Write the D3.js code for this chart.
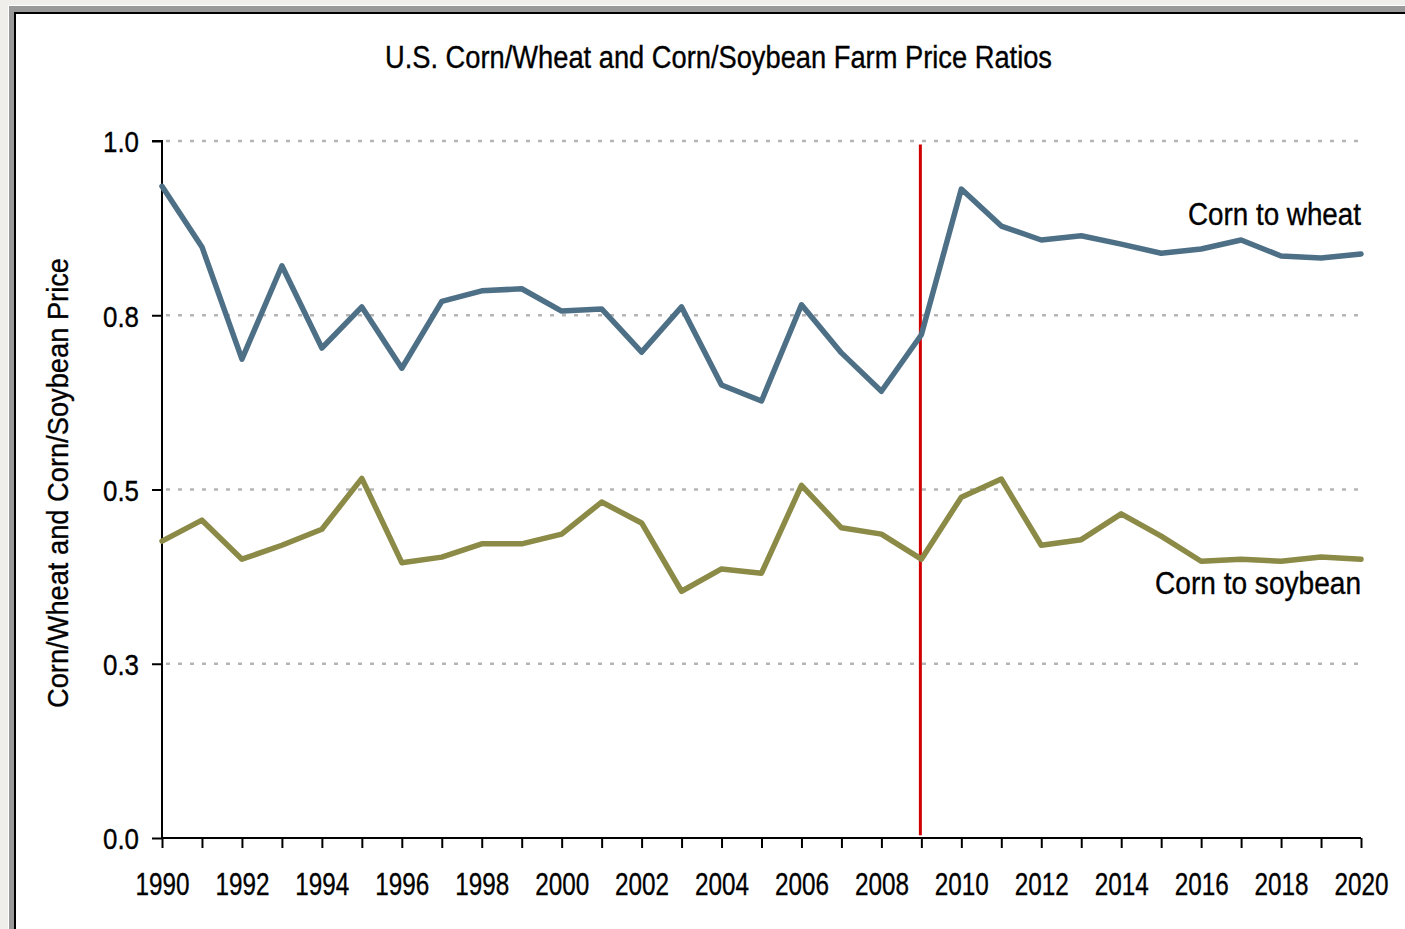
<!DOCTYPE html>
<html>
<head>
<meta charset="utf-8">
<script src="https://cdn.jsdelivr.net/npm/d3@7"></script>
<style>
  html, body { margin: 0; padding: 0; background: #efeeea; }
  svg { display: block; }
  text { font-family: "Liberation Sans", Arial, sans-serif; fill: #000; stroke: #000; stroke-width: 0.35px; }
</style>
</head>
<body>
<script>
// ---- data ----
const years = d3.range(1990, 2021);
const cornToWheat = [0.935, 0.848, 0.687, 0.821, 0.703, 0.762, 0.674, 0.770, 0.785, 0.788,
                     0.756, 0.759, 0.697, 0.762, 0.650, 0.627, 0.765, 0.696, 0.641, 0.722,
                     0.931, 0.878, 0.858, 0.864, 0.852, 0.839, 0.845, 0.858, 0.835, 0.832, 0.838];
const cornToSoybean = [0.426, 0.456, 0.400, 0.420, 0.443, 0.516, 0.395, 0.403, 0.422, 0.422,
                       0.436, 0.482, 0.452, 0.354, 0.386, 0.380, 0.506, 0.445, 0.436, 0.400,
                       0.489, 0.515, 0.420, 0.428, 0.465, 0.433, 0.397, 0.400, 0.397, 0.403, 0.400];
const yTicks = [0, 0.25, 0.5, 0.75, 1.0];
const yTickLabels = ["0.0", "0.3", "0.5", "0.8", "1.0"];
const xTickLabelYears = d3.range(1990, 2021, 2);
const markerYear = 2009;
const seriesNames = ["Corn to wheat", "Corn to soybean"];
const title = "U.S. Corn/Wheat and Corn/Soybean Farm Price Ratios";
const yTitle = "Corn/Wheat and Corn/Soybean Price";

// ---- layout ----
const W = 1405, H = 929;
const svg = d3.select("body").append("svg").attr("width", W).attr("height", H);

// horizontal squeeze helper (condensed look)
function squeeze(sel, target) {
  sel.each(function () {
    this.setAttribute("textLength", target);
    this.setAttribute("lengthAdjust", "spacingAndGlyphs");
  });
}

// frame
svg.append("rect").attr("x", 0).attr("y", 0).attr("width", W).attr("height", H).attr("fill", "#efeeea");
svg.append("rect").attr("x", 8).attr("y", 5).attr("width", W).attr("height", H).attr("fill", "#ffffff");
svg.append("rect").attr("x", 9).attr("y", 6).attr("width", W).attr("height", H).attr("fill", "#999999");
svg.append("rect").attr("x", 14).attr("y", 12).attr("width", W).attr("height", H).attr("fill", "#000000");
svg.append("rect").attr("x", 16).attr("y", 14).attr("width", W).attr("height", H).attr("fill", "#ffffff");

const x = d3.scaleLinear().domain([1990, 2020]).range([162, 1361]);
const y = d3.scaleLinear().domain([0, 1]).range([838, 141]);

// gridlines
svg.append("g").selectAll("line").data(yTicks.filter(d => d > 0)).join("line")
  .attr("x1", x(1990) + 4).attr("x2", x(2020))
  .attr("y1", d => y(d)).attr("y2", d => y(d))
  .attr("stroke", "#b5b5b5").attr("stroke-width", 2.5).attr("stroke-dasharray", "4,8");

// y axis
const yAxis = d3.axisLeft(y).tickValues(yTicks).tickSize(10).tickPadding(13)
  .tickFormat((d, i) => yTickLabels[i]);
const gy = svg.append("g").attr("transform", `translate(${x(1990)},0)`).call(yAxis);
gy.select(".domain").attr("stroke", "#000").attr("stroke-width", 2).attr("d", `M-10,${y(1)}H0V${y(0)}`);
gy.selectAll(".tick line").attr("stroke", "#000").attr("stroke-width", 2);
gy.selectAll(".tick text").style("font-size", "30px").attr("dy", "0.36em").call(squeeze, 36);

// x axis
const xAxis = d3.axisBottom(x).tickValues(years).tickSize(10).tickPadding(14)
  .tickFormat(d => xTickLabelYears.includes(d) ? String(d) : "");
const gx = svg.append("g").attr("transform", `translate(0,${y(0)})`).call(xAxis);
gx.select(".domain").attr("stroke", "#000").attr("stroke-width", 2).attr("d", `M${x(1990)},0H${x(2020)}`);
gx.selectAll(".tick line").attr("stroke", "#000").attr("stroke-width", 2);
gx.selectAll(".tick text").filter(d => xTickLabelYears.includes(d))
  .attr("dy", null).attr("y", 57).style("font-size", "31px").call(squeeze, 54);

// vertical marker
svg.append("line")
  .attr("x1", x(markerYear) - 1).attr("x2", x(markerYear) - 1)
  .attr("y1", y(0.995)).attr("y2", y(0.004))
  .attr("stroke", "#d00000").attr("stroke-width", 3);

// lines
const line = d3.line().x((d, i) => x(years[i])).y(d => y(d));
svg.append("path").datum(cornToWheat).attr("d", line)
  .attr("fill", "none").attr("stroke", "#4e7087").attr("stroke-width", 5.5)
  .attr("stroke-linejoin", "round").attr("stroke-linecap", "round");
svg.append("path").datum(cornToSoybean).attr("d", line)
  .attr("fill", "none").attr("stroke", "#8b8a46").attr("stroke-width", 5.5)
  .attr("stroke-linejoin", "round").attr("stroke-linecap", "round");

// series labels
svg.append("text").attr("x", x(2020)).attr("y", 225).attr("text-anchor", "end")
  .style("font-size", "31px").text(seriesNames[0]).call(squeeze, 173);
svg.append("text").attr("x", x(2020)).attr("y", 594).attr("text-anchor", "end")
  .style("font-size", "31px").text(seriesNames[1]).call(squeeze, 206);

// title
svg.append("text").attr("x", 718.5).attr("y", 68).attr("text-anchor", "middle")
  .style("font-size", "31px").text(title).call(squeeze, 667);

// y title
svg.append("text").attr("transform", `translate(68,483) rotate(-90)`)
  .attr("text-anchor", "middle").style("font-size", "29px").text(yTitle).call(squeeze, 450);
</script>
</body>
</html>
